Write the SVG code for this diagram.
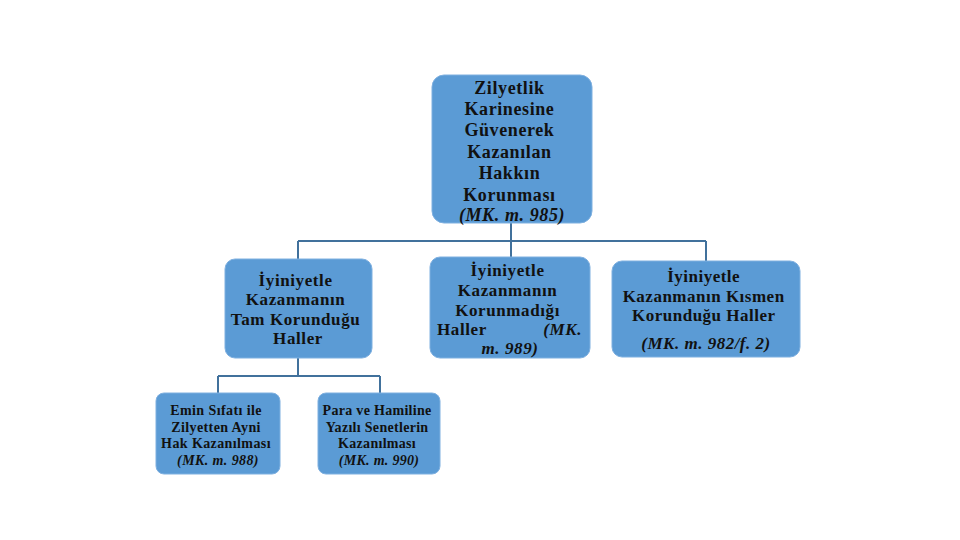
<svg xmlns="http://www.w3.org/2000/svg" width="960" height="540" viewBox="0 0 960 540">
<style>
.box{fill:#5B9BD5;stroke:#7FB0E0;stroke-width:1}
.t{font-family:"Liberation Serif",serif;font-weight:bold;fill:#111;text-anchor:middle}
.i{font-style:italic}
.c{fill:none;stroke:#41719C;stroke-width:2}
</style>
<rect width="960" height="540" fill="#fff"/>
<g id="connectors">
<path class="c" d="M511 223V241M298 241H706M298 241V259M511 241V257M706 241V261"/>
<path class="c" d="M298 358V376M218 376H380M218 376V393M380 376V393"/>
</g>
<g id="root">
<rect class="box" x="432" y="75" width="160" height="148" rx="12"/>
<text class="t" font-size="18" letter-spacing="0.6">
<tspan x="512" y="94">Zilyetlik</tspan>
<tspan x="512" y="115">Karinesine</tspan>
<tspan x="512" y="136">Güvenerek</tspan>
<tspan x="512" y="158">Kazanılan</tspan>
<tspan x="512" y="179">Hakkın</tspan>
<tspan x="512" y="201">Korunması</tspan>
<tspan x="512" y="221" class="i">(MK. m. 985)</tspan>
</text>
</g>
<g id="tam">
<rect class="box" x="225" y="259" width="147" height="99" rx="10"/>
<text class="t" font-size="17" letter-spacing="0.6">
<tspan x="298" y="286">İyiniyetle</tspan>
<tspan x="298" y="305">Kazanmanın</tspan>
<tspan x="298" y="325">Tam Korunduğu</tspan>
<tspan x="298" y="344">Haller</tspan>
</text>
</g>
<g id="korunmadigi">
<rect class="box" x="430" y="257" width="160" height="101" rx="10"/>
<text class="t" font-size="17" letter-spacing="0.6">
<tspan x="510" y="276">İyiniyetle</tspan>
<tspan x="510" y="296">Kazanmanın</tspan>
<tspan x="510" y="316">Korunmadığı</tspan>
<tspan x="437" y="335" text-anchor="start">Haller</tspan>
<tspan x="587" y="335" text-anchor="end" class="i">(MK.</tspan>
<tspan x="510" y="354" class="i">m. 989)</tspan>
</text>
</g>
<g id="kismen">
<rect class="box" x="612" y="261" width="188" height="96" rx="10"/>
<text class="t" font-size="17" letter-spacing="0.5">
<tspan x="706" y="282">İyiniyetle</tspan>
<tspan x="706" y="302">Kazanmanın  Kısmen</tspan>
<tspan x="706" y="321">Korunduğu Haller</tspan>
<tspan x="706" y="349" class="i">(MK. m. 982/f. 2)</tspan>
</text>
</g>
<g id="emin">
<rect class="box" x="156" y="393" width="124" height="81" rx="8"/>
<text class="t" font-size="14" letter-spacing="0.4">
<tspan x="218" y="415">Emin Sıfatı ile</tspan>
<tspan x="218" y="432">Zilyetten Ayni</tspan>
<tspan x="218" y="448">Hak Kazanılması</tspan>
<tspan x="218" y="465" class="i">(MK. m. 988)</tspan>
</text>
</g>
<g id="para">
<rect class="box" x="318" y="393" width="122" height="81" rx="8"/>
<text class="t" font-size="14" letter-spacing="0.3">
<tspan x="379" y="415">Para ve Hamiline</tspan>
<tspan x="379" y="432">Yazılı Senetlerin</tspan>
<tspan x="379" y="448">Kazanılması</tspan>
<tspan x="379" y="465" class="i">(MK. m. 990)</tspan>
</text>
</g>
</svg>
